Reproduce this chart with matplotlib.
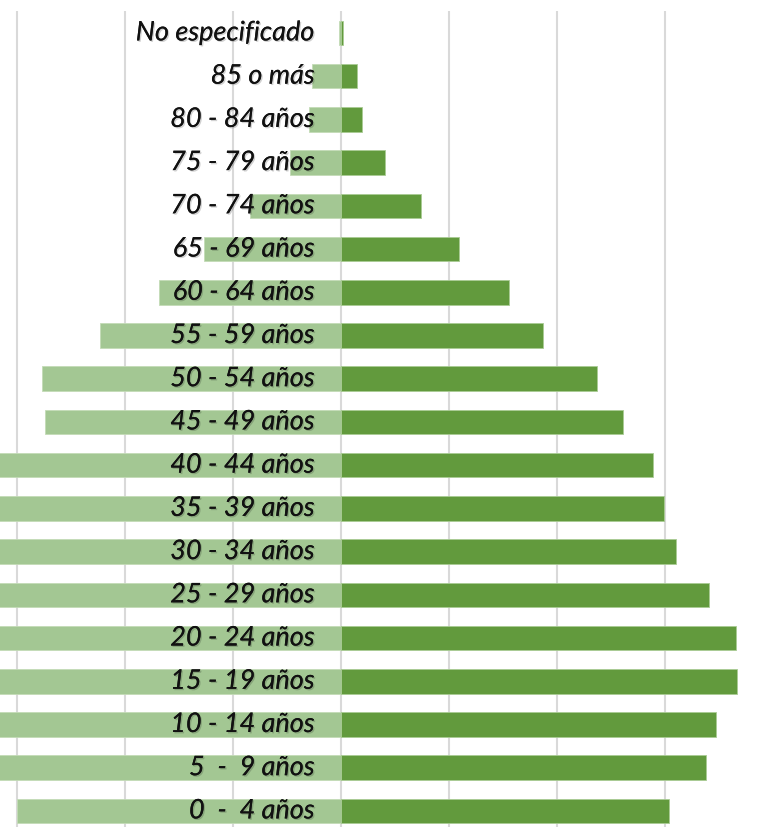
import matplotlib
matplotlib.use("Agg")
import matplotlib.pyplot as plt
import matplotlib.patheffects as pe
import numpy as np

# age groups, bottom to top
grupos = ["0  -  4 años", "5  -  9 años", "10 - 14 años", "15 - 19 años",
          "20 - 24 años", "25 - 29 años", "30 - 34 años", "35 - 39 años",
          "40 - 44 años", "45 - 49 años", "50 - 54 años", "55 - 59 años",
          "60 - 64 años", "65 - 69 años", "70 - 74 años", "75 - 79 años",
          "80 - 84 años", "85 o más", "No especificado"]

# left side (light green) and right side (dark green)
izquierda = [1500, 1750, 1820, 1900, 1880, 1800, 1720, 1700, 1650, 1370,
             1384, 1116, 843, 634, 421, 236, 148, 134, 9]
derecha = [1519, 1690, 1736, 1833, 1829, 1704, 1551, 1495, 1444, 1306,
           1185, 935, 778, 546, 370, 204, 97, 74, 9]

fig = plt.figure(figsize=(7.59, 8.28), dpi=100)
ax = fig.add_axes([0, -0.0067, 1, 0.9918])

y = np.arange(len(grupos))
ax.barh(y, -np.array(izquierda), height=0.57, color="#a3c793",
        edgecolor="#c4dcb7", linewidth=0.6, zorder=2)
ax.barh(y, derecha, height=0.57, color="#629a3d",
        edgecolor="#a9cb94", linewidth=0.6, zorder=2)

for yi, g in zip(y, grupos):
    ax.text(-120, yi, g, ha="right", va="center", fontsize=19.5,
            style="italic", family=["Lato", "DejaVu Sans"], color="#111111",
            zorder=3,
            path_effects=[pe.withSimplePatchShadow(offset=(1, -1), alpha=0.18),
                          pe.Normal()])

ax.set_xlim(-341 * 500 / 108, 418 * 500 / 108)
ax.set_ylim(-0.5, len(grupos) - 0.5)
ax.set_xticks(np.arange(-1500, 2000, 500))
ax.grid(axis="x", color="#d9d9d9", linewidth=1.5, zorder=0)
ax.tick_params(length=0, labelbottom=False, labelleft=False)
for s in ax.spines.values():
    s.set_visible(False)

fig.savefig("out.png", dpi=100)
